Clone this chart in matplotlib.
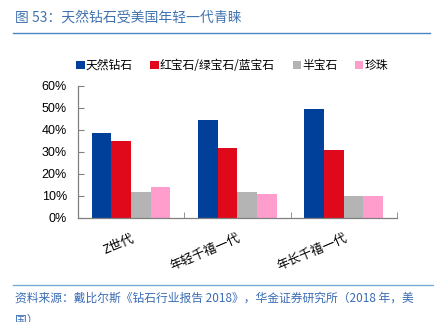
import matplotlib
matplotlib.use('Agg')
import matplotlib.pyplot as plt
import numpy as np
from matplotlib.lines import Line2D

plt.rcParams['font.family'] = ['Liberation Sans', 'Noto Sans CJK SC', 'DejaVu Sans']

categories = ["Z世代", "年轻千禧一代", "年长千禧一代"]
series_names = ["天然钻石", "红宝石/绿宝石/蓝宝石", "半宝石", "珍珠"]
natural_diamond = [0.385, 0.445, 0.495]
colored_gems = [0.35, 0.32, 0.31]
semi_precious = [0.12, 0.12, 0.10]
pearl = [0.14, 0.11, 0.10]
yticks = [0, 0.1, 0.2, 0.3, 0.4, 0.5, 0.6]
colors = ["#00409a", "#e0081b", "#b4b4b4", "#ff9dcd"]

title = "图 53：天然钻石受美国年轻一代青睐"
source = "资料来源：戴比尔斯《钻石行业报告 2018》，华金证券研究所（2018 年，美"
source2 = "国）"

cjk = ['Noto Sans CJK SC', 'DejaVu Sans']

fig = plt.figure(figsize=(4.34, 3.22), dpi=100)
ax = fig.add_axes([0.1797, 0.323, 0.735, 0.41])

series = [natural_diamond, colored_gems, semi_precious, pearl]
x = np.arange(len(categories))
w = 0.185
for i, (vals, name, c) in enumerate(zip(series, series_names, colors)):
    ax.bar(x + (i - 1.5) * w, vals, w, color=c, label=name, zorder=2)

ax.set_xlim(-0.5, len(categories) - 0.5)
ax.set_ylim(0, 0.6)
ax.set_yticks(yticks)
ax.set_yticklabels([f"{int(round(v * 100))}%" for v in yticks], fontsize=9)
ax.set_xticks(x)
ax.set_xticklabels(categories, rotation=23, ha='right', rotation_mode='anchor',
                   fontsize=9, family=cjk)
ax.tick_params(axis='x', length=0, pad=10)
ax.set_xticks(np.arange(len(categories) + 1) - 0.5, minor=True)
ax.tick_params(axis='x', which='minor', direction='in', length=4, color='#808080')
ax.tick_params(axis='y', direction='in', length=4, color='#808080', pad=8)
for s in ['top', 'right']:
    ax.spines[s].set_visible(False)
for s in ['left', 'bottom']:
    ax.spines[s].set_color('#808080')
    ax.spines[s].set_linewidth(0.9)

ax.legend(loc='lower left', bbox_to_anchor=(-0.02, 1.07), ncol=4, frameon=False,
          handlelength=0.7, handleheight=0.7, handletextpad=0.1, columnspacing=1.5,
          borderaxespad=0, prop={'family': cjk, 'size': 8.5})

fig.text(0.035, 0.945, title, fontsize=10, color='#4273b0', va='center', family=cjk)
fig.add_artist(Line2D([0.03, 0.99], [0.897, 0.897], color='#4a86c5', lw=1.0))
fig.add_artist(Line2D([0.03, 1.0], [0.115, 0.115], color='#7aaad8', lw=1.0))
fig.text(0.035, 0.074, source, fontsize=8.5, color='#3a6cb4', va='center',
         style='italic', family=cjk)
fig.text(0.035, 0.005, source2, fontsize=8.5, color='#3a6cb4', va='center', family=cjk)

fig.savefig("out.png", dpi=100)
